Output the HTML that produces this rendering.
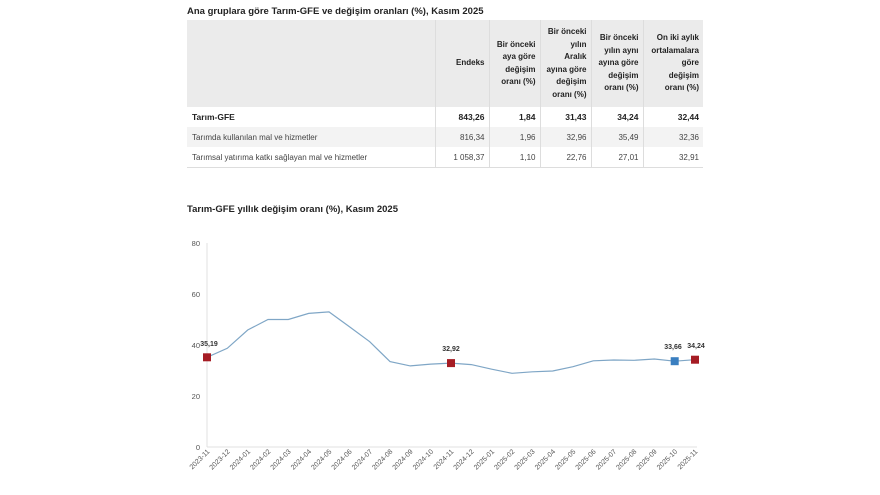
<!DOCTYPE html>
<html><head><meta charset="utf-8"><style>
body{margin:0;width:880px;height:495px;background:#fff;position:relative;font-family:"Liberation Sans",sans-serif;overflow:hidden}
.t{position:absolute;font-size:9.5px;font-weight:bold;color:#222}
table{position:absolute;left:187px;top:20px;border-collapse:collapse;font-size:8px;color:#444;table-layout:fixed;width:516px}
td{padding:0 4px;text-align:right;border-left:1px solid #ddd;overflow:hidden}
td:first-child{text-align:left;border-left:none;padding-left:5px}
tr.h td{background:#ebebeb;height:87px;font-weight:bold;color:#222;line-height:12.5px;vertical-align:middle}
tr.r td{height:20px}
tr.b td{font-weight:bold;color:#222;font-size:8.5px}
tr.g td{background:#f3f3f3}
tr.last td{border-bottom:1px solid #ddd}
</style></head><body>
<div class="t" style="left:187px;top:6px">Ana gruplara göre Tarım-GFE ve değişim oranları (%), Kasım 2025</div>
<table>
<colgroup><col style="width:248px"><col style="width:54px"><col style="width:51px"><col style="width:51px"><col style="width:52px"><col style="width:60px"></colgroup>
<tr class="h"><td></td><td>Endeks</td><td>Bir önceki<br>aya göre<br>değişim<br>oranı (%)</td><td>Bir önceki<br>yılın<br>Aralık<br>ayına göre<br>değişim<br>oranı (%)</td><td>Bir önceki<br>yılın aynı<br>ayına göre<br>değişim<br>oranı (%)</td><td>On iki aylık<br>ortalamalara<br>göre<br>değişim<br>oranı (%)</td></tr>
<tr class="r b"><td>Tarım-GFE</td><td>843,26</td><td>1,84</td><td>31,43</td><td>34,24</td><td>32,44</td></tr>
<tr class="r g"><td>Tarımda kullanılan mal ve hizmetler</td><td>816,34</td><td>1,96</td><td>32,96</td><td>35,49</td><td>32,36</td></tr>
<tr class="r last"><td>Tarımsal yatırıma katkı sağlayan mal ve hizmetler</td><td>1 058,37</td><td>1,10</td><td>22,76</td><td>27,01</td><td>32,91</td></tr>
</table>
<div class="t" style="left:187px;top:204px">Tarım-GFE yıllık değişim oranı (%), Kasım 2025</div>
<svg width="880" height="495" style="position:absolute;left:0;top:0" font-family="Liberation Sans, sans-serif">
<line x1="207" y1="243" x2="207" y2="447" stroke="#e0e0e0" stroke-width="1"/>
<line x1="207" y1="447" x2="697" y2="447" stroke="#e0e0e0" stroke-width="1"/>
<g font-size="7.5" fill="#555" text-anchor="end">
<text x="200" y="246">80</text><text x="200" y="297">60</text><text x="200" y="348">40</text><text x="200" y="399">20</text><text x="200" y="450">0</text>
</g>
<polyline fill="none" stroke="#7fa6c6" stroke-width="1.2" points="207,357.3 227.3,348.3 247.7,330 268,319.5 288.3,319.5 308.7,313.4 329,311.9 349.3,326.6 369.7,341.7 390,361.6 410.3,365.9 430.7,364.1 451,363.1 471.3,364.6 491.7,369.2 512,373.3 532.3,371.8 552.7,371 573,366.7 593.3,360.8 613.7,360 634,360.3 654.3,359 674.7,361.2 695,359.7"/>
<rect x="203" y="353.3" width="8" height="8" fill="#a51c24"/>
<rect x="447" y="359.1" width="8" height="8" fill="#a51c24"/>
<rect x="670.7" y="357.2" width="8" height="8" fill="#3a7fc0"/>
<rect x="691" y="355.7" width="8" height="8" fill="#a51c24"/>
<g font-size="7" font-weight="bold" fill="#333" text-anchor="middle">
<text x="209" y="346">35,19</text><text x="451" y="351">32,92</text><text x="673" y="349">33,66</text><text x="696" y="348">34,24</text>
</g>
<g font-size="7" fill="#555" text-anchor="end">
<text transform="translate(210,452) rotate(-45)">2023-11</text>
<text transform="translate(230.3,452) rotate(-45)">2023-12</text>
<text transform="translate(250.7,452) rotate(-45)">2024-01</text>
<text transform="translate(271,452) rotate(-45)">2024-02</text>
<text transform="translate(291.3,452) rotate(-45)">2024-03</text>
<text transform="translate(311.7,452) rotate(-45)">2024-04</text>
<text transform="translate(332,452) rotate(-45)">2024-05</text>
<text transform="translate(352.3,452) rotate(-45)">2024-06</text>
<text transform="translate(372.7,452) rotate(-45)">2024-07</text>
<text transform="translate(393,452) rotate(-45)">2024-08</text>
<text transform="translate(413.3,452) rotate(-45)">2024-09</text>
<text transform="translate(433.7,452) rotate(-45)">2024-10</text>
<text transform="translate(454,452) rotate(-45)">2024-11</text>
<text transform="translate(474.3,452) rotate(-45)">2024-12</text>
<text transform="translate(494.7,452) rotate(-45)">2025-01</text>
<text transform="translate(515,452) rotate(-45)">2025-02</text>
<text transform="translate(535.3,452) rotate(-45)">2025-03</text>
<text transform="translate(555.7,452) rotate(-45)">2025-04</text>
<text transform="translate(576,452) rotate(-45)">2025-05</text>
<text transform="translate(596.3,452) rotate(-45)">2025-06</text>
<text transform="translate(616.7,452) rotate(-45)">2025-07</text>
<text transform="translate(637,452) rotate(-45)">2025-08</text>
<text transform="translate(657.3,452) rotate(-45)">2025-09</text>
<text transform="translate(677.7,452) rotate(-45)">2025-10</text>
<text transform="translate(698,452) rotate(-45)">2025-11</text>
</g>
</svg>
</body></html>
